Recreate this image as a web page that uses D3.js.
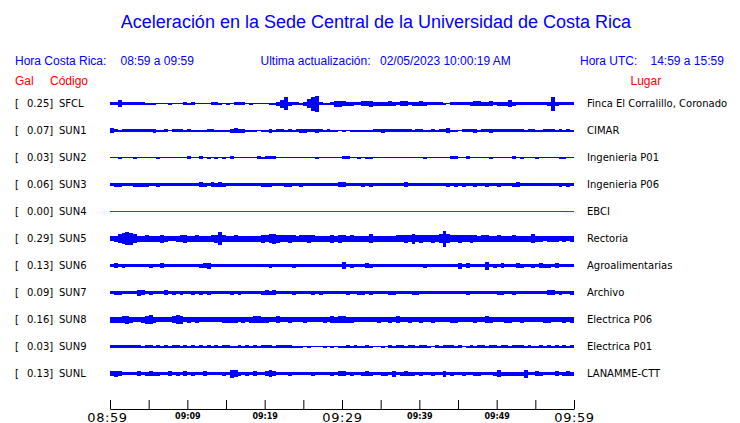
<!DOCTYPE html>
<html><head><meta charset="utf-8">
<script src="https://cdn.jsdelivr.net/npm/d3@7"></script>
<style>html,body{margin:0;padding:0;background:#fff}svg{display:block}</style>
</head><body>
<svg id="chart" width="740" height="423"></svg>
<script>
// ---- data ----
const title = "Aceleración en la Sede Central de la Universidad de Costa Rica";
const horaLocal = ["Hora Costa Rica:", "08:59 a 09:59"];
const actualizacion = ["Ultima actualización:", "02/05/2023 10:00:19 AM"];
const horaUTC = ["Hora UTC:", "14:59 a 15:59"];
const codes = ["SFCL","SUN1","SUN2","SUN3","SUN4","SUN5","SUN6","SUN7","SUN8","SUN9","SUNL"];
const peaks = [0.25,0.07,0.03,0.06,0.00,0.29,0.13,0.09,0.16,0.03,0.13];
const places = ["Finca El Corralillo, Coronado","CIMAR","Ingenieria P01","Ingenieria P06","EBCI","Rectoria","Agroalimentarias","Archivo","Electrica P06","Electrica P01","LANAMME-CTT"];
// envelope half-amplitude per 30 s (base-36 digits, relative units), read from the record
const envSFCL = "3373333332 2211121113 2311113321 2133312111 12248d4332 49eg322366 5443355644 4454355344 5433332133 3334554453 4447433333 3334e43333";
const envSUN1 = "5323333333 3422313332 3222233222 2454422212 2423323234 4334323221 2122222233 4333333323 3223233522 1333423343 3333333233 2233323232";
const envSUN2 = "1121112111 1121111111 3113121212 1311111132 3331111111 1112111111 3311212211 1111111111 1211111133 1131111121 1111312111 2111112211";
const envSUN3 = "3443334444 3343333333 3335435454 3333333334 4433344334 3333333335 5333343433 3333335333 3333333434 3433433433 4333453333 3333334343";
const envSUN4 = "0000000000 0000000000 0000000000 0000000000 0000000000 0000000000 0000000000 0000000000 0000000000 0000000000 0000000000 0000000000";
const envSUN5 = "569bdc9667 6668655678 66766678d7 6676666668 79a8778767 7876666868 7676666966 66667787a7 877879g977 8778767766 7666766669 6656665656";
const envSUN6 = "3534333333 4335333333 3334563333 3333333333 3433333433 3333333333 7343335433 3333333333 3433333333 6353333834 3533354334 3544353333";
const envSUN7 = "3443333653 4333534343 3434343333 3434333334 5453333433 3343433333 3433443433 3344333344 3333333333 3343333333 4433433333 3335534334";
const envSUN8 = "6667865568 9655557985 6565555556 6665656776 6557556555 6555565767 7665555556 5565755655 6556555566 5555655765 5566556555 5566555656";
const envSUN9 = "3333333323 3232323323 2323232323 3223232323 3323333222 1211121212 2323223211 2132332332 3321323332 3123233233 2332333232 2323232323";
const envSUNL = "5653333534 5443353435 3433533334 3874343533 5753334333 3343333435 5343345433 4436345443 4334336343 3433443334 7444444833 5433353454";
const envelopes = [envSFCL,envSUN1,envSUN2,envSUN3,envSUN4,envSUN5,envSUN6,envSUN7,envSUN8,envSUN9,envSUNL];
const tickMinutes = [0,5,10,15,20,25,30,35,40,45,50,55,60];
const tickLabels = ["08:59","","09:09","","09:19","","09:29","","09:39","","09:49","","09:59"];
const bigLabels = ["08:59","09:29","09:59"];

// ---- drawing ----
const svg = d3.select("#chart");
const BLUE = "#0000ff", RED = "#ff0000";
const x = d3.scaleLinear().domain([0, 60]).range([110, 574]);
const row = d3.scaleLinear().domain([0, codes.length - 1]).range([103.5, 373.5]);
const amp = d3.scaleLinear().domain([0, 1]).range([0, 0.5]);

svg.append("text").attr("x", 376).attr("y", 28).attr("text-anchor", "middle")
  .attr("font-family", "Liberation Sans, Arial, sans-serif").attr("font-size", 18)
  .attr("fill", BLUE).text(title);

const hdr = svg.append("g").attr("font-family", "Liberation Sans, Arial, sans-serif")
  .attr("font-size", 12).attr("fill", BLUE);
hdr.append("text").attr("x", 15).attr("y", 65).text(horaLocal[0]);
hdr.append("text").attr("x", 120.5).attr("y", 65).text(horaLocal[1]);
hdr.append("text").attr("x", 260.5).attr("y", 65).text(actualizacion[0]);
hdr.append("text").attr("x", 380).attr("y", 65).text(actualizacion[1]);
hdr.append("text").attr("x", 580).attr("y", 65).text(horaUTC[0]);
hdr.append("text").attr("x", 650.5).attr("y", 65).text(horaUTC[1]);
const red = svg.append("g").attr("font-family", "Liberation Sans, Arial, sans-serif")
  .attr("font-size", 12).attr("fill", RED);
red.append("text").attr("x", 15).attr("y", 85).text("Gal");
red.append("text").attr("x", 50).attr("y", 85).text("Código");
red.append("text").attr("x", 630.5).attr("y", 85).text("Lugar");

const lab = svg.append("g").attr("font-family", "DejaVu Sans, sans-serif")
  .attr("font-size", 10).attr("fill", "#000");
codes.forEach((c, i) => {
  const yb = row(i) + 3.8;
  lab.append("text").attr("x", 15).attr("y", yb).text("[");
  lab.append("text").attr("x", 27).attr("y", yb).text(peaks[i].toFixed(2) + "]");
  lab.append("text").attr("x", 59).attr("y", yb).text(c);
  lab.append("text").attr("x", 587).attr("y", yb).text(places[i]);
});

const traces = svg.append("g");
envelopes.forEach((s, i) => {
  const vals = s.replace(/\s+/g, "").split("").map(ch => parseInt(ch, 36));
  const pts = vals.map((v, k) => ({t: k * 0.5, v}));
  pts.push({t: 60, v: vals[vals.length - 1]});
  const c = row(i);
  const area = d3.area().curve(d3.curveStepAfter)
    .x(d => x(d.t))
    .y0(d => c - Math.max(amp(d.v), 0.5))
    .y1(d => c + Math.max(amp(d.v), 0.5));
  traces.append("path").attr("d", area(pts))
    .attr("fill", peaks[i] > 0 ? BLUE : RED).attr("shape-rendering", "crispEdges");
});

const axis = d3.axisBottom(x).tickValues(tickMinutes)
  .tickSizeInner(-9).tickSizeOuter(0).tickPadding(4)
  .tickFormat((d, k) => tickLabels[k]);
const ag = svg.append("g").attr("transform", "translate(0,409)").call(axis);
ag.selectAll("path,line").attr("stroke", "#000");
ag.selectAll("text").attr("fill", "#000").attr("dy", null)
  .each(function(d, k) {
    const big = bigLabels.includes(tickLabels[k]);
    d3.select(this)
      .attr("y", big ? 12.5 : 10)
      .attr("dx", k === 0 ? -3 : 0)
      .attr("font-family", "DejaVu Sans, sans-serif")
      .attr("font-size", big ? 13 : 8)
      .attr("font-weight", big ? "normal" : "bold")
      .attr("letter-spacing", big ? 0.6 : 0);
  });
</script>
</body></html>
